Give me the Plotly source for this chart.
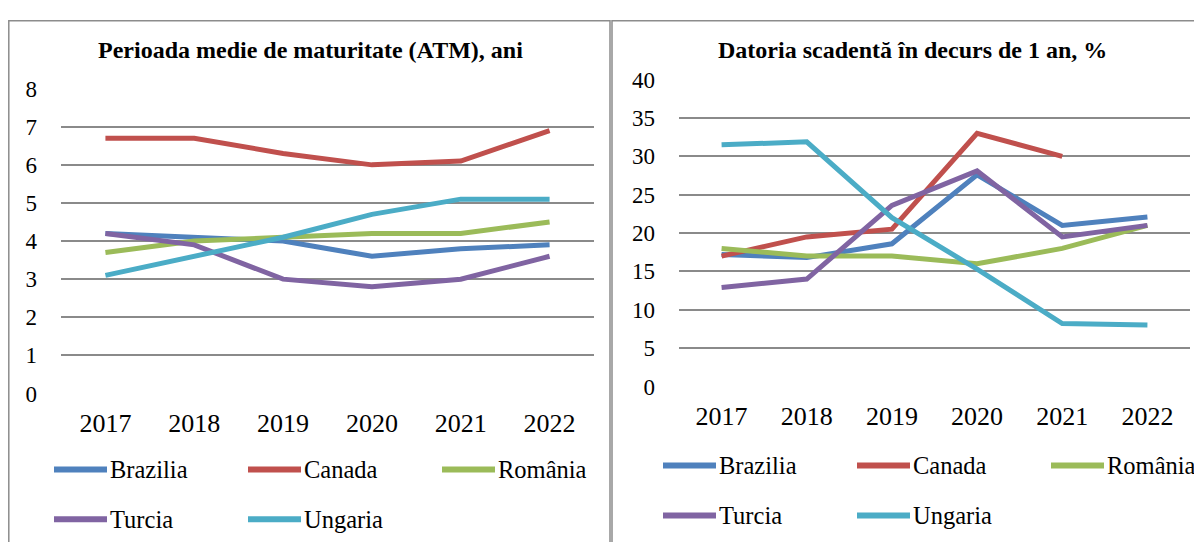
import plotly.graph_objects as go

years = ["2017", "2018", "2019", "2020", "2021", "2022"]
series_names = ["Brazilia", "Canada", "România", "Turcia", "Ungaria"]
colors = ["#4F81BD", "#C0504D", "#9BBB59", "#8064A2", "#4BACC6"]

atm_brazilia = [4.2, 4.1, 4.0, 3.6, 3.8, 3.9]
atm_canada = [6.7, 6.7, 6.3, 6.0, 6.1, 6.9]
atm_romania = [3.7, 4.0, 4.1, 4.2, 4.2, 4.5]
atm_turcia = [4.2, 3.9, 3.0, 2.8, 3.0, 3.6]
atm_ungaria = [3.1, 3.6, 4.1, 4.7, 5.1, 5.1]

due_brazilia = [17.2, 16.8, 18.6, 27.6, 21.0, 22.1]
due_canada = [17.0, 19.5, 20.5, 33.0, 30.0, None]
due_romania = [18.0, 17.0, 17.0, 16.0, 18.0, 21.0]
due_turcia = [12.9, 14.0, 23.6, 28.1, 19.5, 21.0]
due_ungaria = [31.5, 31.9, 22.0, 15.3, 8.2, 8.0]

title_left = "Perioada medie de maturitate (ATM), ani"
title_right = "Datoria scadentă în decurs de 1 an, %"

W, H = 1202, 542
X_OFF = 8            # horizontal page offset of the figure
Y_OFF, Y_SC = 20.3, 0.9545   # measured vertical placement of the figure in the picture
FONT = "Liberation Serif, Times New Roman, serif"

def px(x):
    return (x - X_OFF) / W

def py(y):
    f = (y - Y_OFF) / Y_SC
    f = max(f, 0.8)
    return 1 - f / H

fig = go.Figure()

left_data = [atm_brazilia, atm_canada, atm_romania, atm_turcia, atm_ungaria]
right_data = [due_brazilia, due_canada, due_romania, due_turcia, due_ungaria]

for name, col, vals in zip(series_names, colors, left_data):
    fig.add_trace(go.Scatter(x=years, y=vals, mode="lines", name=name,
                             line=dict(color=col, width=5), xaxis="x", yaxis="y",
                             showlegend=False))
for name, col, vals in zip(series_names, colors, right_data):
    fig.add_trace(go.Scatter(x=years, y=vals, mode="lines", name=name,
                             line=dict(color=col, width=5), xaxis="x2", yaxis="y2",
                             showlegend=False, connectgaps=False))

grid = "#8a8a8a"
common_x = dict(type="category", range=[-0.5, 5.5], showgrid=False, showline=False,
                ticks="", tickfont=dict(family=FONT, size=26, color="#000"),
                ticklabelstandoff=12, fixedrange=True)
common_y = dict(showgrid=True, gridcolor=grid, gridwidth=1.6, zeroline=False,
                showline=False, ticks="", tickfont=dict(family=FONT, size=23, color="#000"),
                ticklabelstandoff=23, fixedrange=True)

fig.update_layout(
    width=W, height=H,
    margin=dict(l=0, r=0, t=0, b=0),
    paper_bgcolor="white", plot_bgcolor="white",
    showlegend=False,
    xaxis=dict(common_x, domain=[px(61), px(594)], anchor="y"),
    yaxis=dict(common_y, domain=[py(394), py(89)], range=[0, 8], dtick=1, anchor="x"),
    xaxis2=dict(common_x, domain=[px(679), px(1190)], anchor="y2"),
    yaxis2=dict(common_y, domain=[py(387), py(80)], range=[0, 40], dtick=5, anchor="x2"),
)

shapes = []
annotations = []
border = "#8c8c8c"
shapes.append(dict(type="rect", xref="paper", yref="paper", x0=px(8.8), x1=px(610),
                   y0=-0.2, y1=py(15), line=dict(color=border, width=1.5)))
shapes.append(dict(type="rect", xref="paper", yref="paper", x0=px(612), x1=px(1280),
                   y0=-0.2, y1=py(15), line=dict(color=border, width=1.5)))

annotations.append(dict(text="<b>" + title_left + "</b>", xref="paper", yref="paper",
                        x=px(310), y=py(50), xanchor="center", yanchor="middle",
                        showarrow=False,
                        font=dict(family=FONT, size=24, color="#000")))
annotations.append(dict(text="<b>" + title_right + "</b>", xref="paper", yref="paper",
                        x=px(912), y=py(50), xanchor="center", yanchor="middle",
                        showarrow=False,
                        font=dict(family=FONT, size=24, color="#000")))

def add_legend(x_start, row1_y, row2_y, step):
    positions = [(x_start, row1_y), (x_start + step, row1_y), (x_start + 2 * step, row1_y),
                 (x_start, row2_y), (x_start + step, row2_y)]
    for (lx, ly), name, col in zip(positions, series_names, colors):
        shapes.append(dict(type="line", xref="paper", yref="paper",
                           x0=px(lx + 1), x1=px(lx + 54), y0=py(ly), y1=py(ly),
                           line=dict(color=col, width=6)))
        annotations.append(dict(text=name, xref="paper", yref="paper",
                                x=px(lx + 55), y=py(ly), xanchor="left", yanchor="middle",
                                showarrow=False,
                                font=dict(family=FONT, size=24.5, color="#000")))

add_legend(53, 470, 520, 194)
add_legend(662, 466, 516, 194)

fig.update_layout(shapes=shapes, annotations=annotations)

fig.write_html("out.html")
